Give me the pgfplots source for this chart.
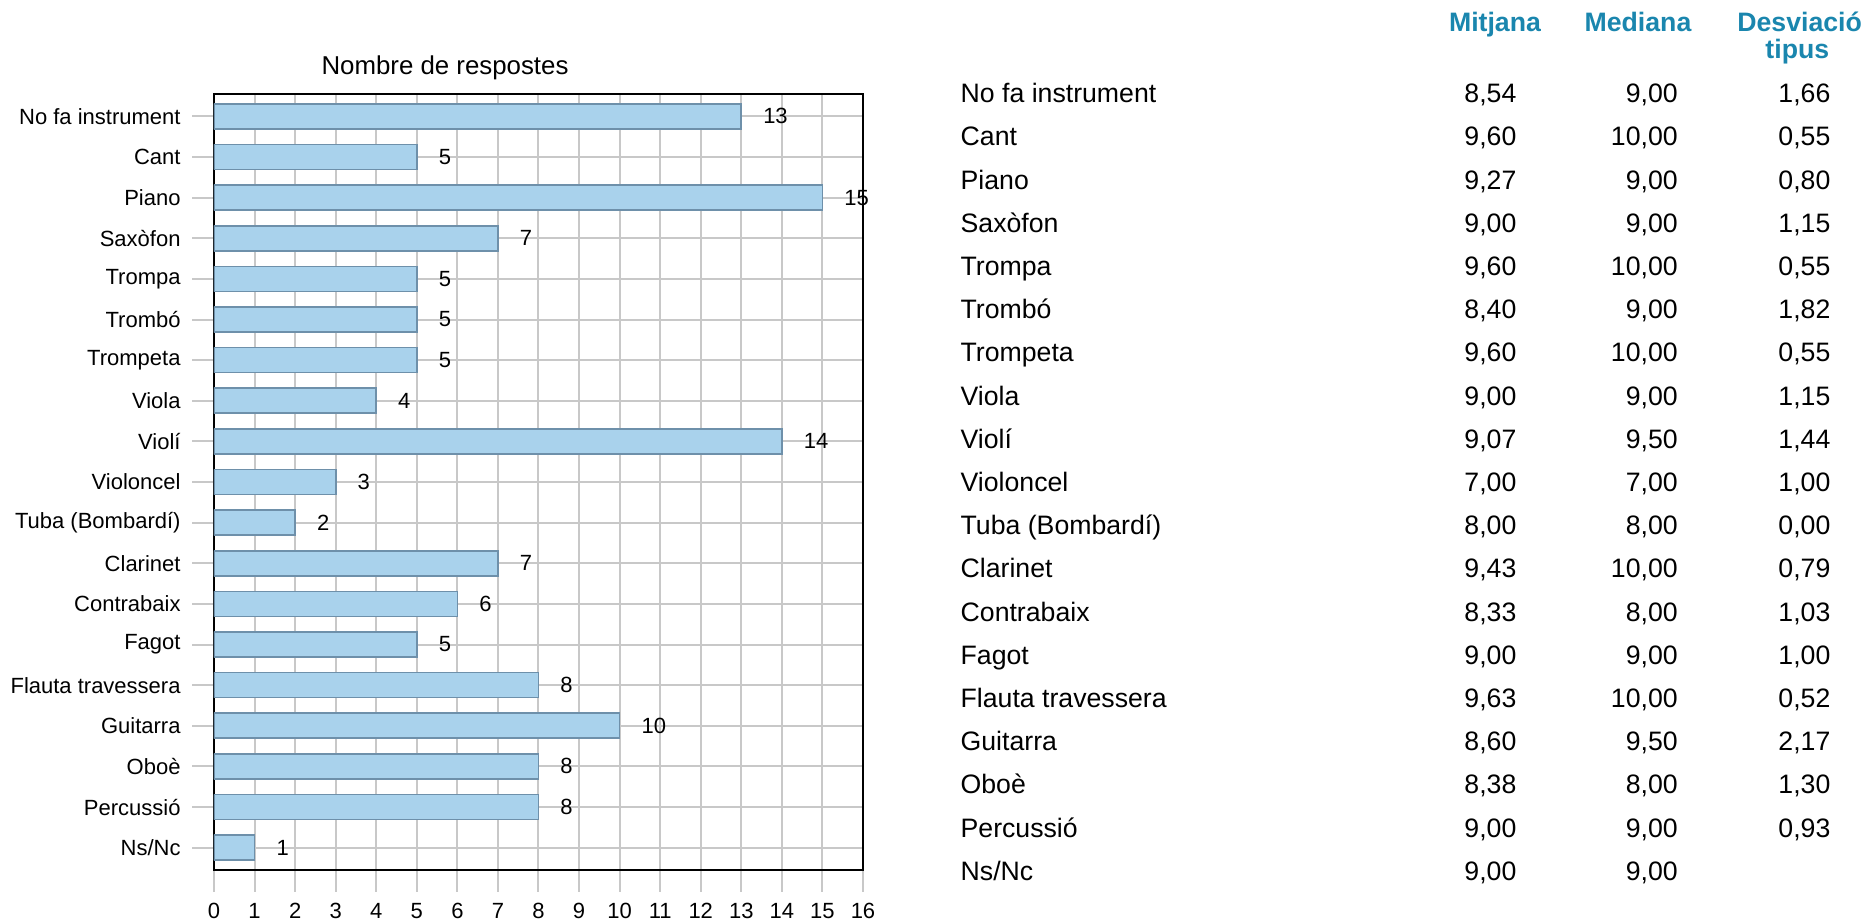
\documentclass[border=0pt]{standalone}
\usepackage{fontspec}
\setmainfont{Liberation Sans}
\usepackage{pgfplots}
\pgfplotsset{compat=1.18}
\definecolor{barfill}{HTML}{A9D2EC}
\definecolor{baredge}{HTML}{6E90AA}
\definecolor{gridgray}{HTML}{C8C8C8}
\definecolor{headblue}{HTML}{1A86AE}
\newcommand\ticksize{\fontsize{6.6}{8}\selectfont}
\newcommand\tabfont{\fontsize{8}{9.6}\selectfont}
\begin{document}
\begin{tikzpicture}
\path[use as bounding box] (0,0) rectangle (560.4pt,-275.7pt);
\begin{axis}[
  at={(64.2pt,-28.2pt)}, anchor=north west,
  scale only axis, width=194.7pt, height=232.8pt,
  xbar, bar width=7.5pt,
  xmin=0, xmax=16, ymin=-0.55, ymax=18.55, y dir=reverse,
  xtick={0,...,16}, ytick={0,...,18},
  yticklabels={No fa instrument,Cant,Piano,Saxòfon,Trompa,Trombó,Trompeta,Viola,Violí,Violoncel,Tuba (Bombardí),Clarinet,Contrabaix,Fagot,Flauta travessera,Guitarra,Oboè,Percussió,Ns/Nc},
  grid=major, major grid style={gridgray, line width=0.6pt},
  axis line style={black, line width=0.8pt},
  tick align=outside, tick pos=left,
  major tick length=6.5pt,
  major tick style={gridgray, line width=0.6pt},
  ticklabel style={font=\ticksize},
  /pgf/number format/assume math mode=true,
  nodes near coords,
  nodes near coords style={anchor=west, xshift=3pt, font=\ticksize, black},
]
\addplot[fill=barfill, draw=baredge, line width=0.5pt] coordinates {
  (13,0) (5,1) (15,2) (7,3) (5,4) (5,5) (5,6) (4,7) (14,8) (3,9)
  (2,10) (7,11) (6,12) (5,13) (8,14) (10,15) (8,16) (8,17) (1,18)
};
\end{axis}
\node[anchor=base, font=\fontsize{7.75}{9}\selectfont] at (133.5pt,-22.3pt) {Nombre de respostes};
% table
\begin{scope}[font=\bfseries\tabfont, text=headblue]
\node[anchor=base] at (448.5pt,-9.5pt) {Mitjana};
\node[anchor=base] at (491.4pt,-9.5pt) {Mediana};
\node[anchor=base] at (539.9pt,-9.5pt) {Desviació};
\node[anchor=base] at (539.2pt,-17.6pt) {tipus};
\end{scope}
\foreach \n/\a/\b/\c [count=\i from 0] in {
  {No fa instrument}/{8,54}/{9,00}/{1,66},
  {Cant}/{9,60}/{10,00}/{0,55},
  {Piano}/{9,27}/{9,00}/{0,80},
  {Saxòfon}/{9,00}/{9,00}/{1,15},
  {Trompa}/{9,60}/{10,00}/{0,55},
  {Trombó}/{8,40}/{9,00}/{1,82},
  {Trompeta}/{9,60}/{10,00}/{0,55},
  {Viola}/{9,00}/{9,00}/{1,15},
  {Violí}/{9,07}/{9,50}/{1,44},
  {Violoncel}/{7,00}/{7,00}/{1,00},
  {Tuba (Bombardí)}/{8,00}/{8,00}/{0,00},
  {Clarinet}/{9,43}/{10,00}/{0,79},
  {Contrabaix}/{8,33}/{8,00}/{1,03},
  {Fagot}/{9,00}/{9,00}/{1,00},
  {Flauta travessera}/{9,63}/{10,00}/{0,52},
  {Guitarra}/{8,60}/{9,50}/{2,17},
  {Oboè}/{8,38}/{8,00}/{1,30},
  {Percussió}/{9,00}/{9,00}/{0,93},
  {Ns/Nc}/{9,00}/{9,00}/{}
}{
  \node[anchor=base west, font=\tabfont, inner sep=0pt] at (288pt,{-30.8pt-12.96pt*\i}) {\n};
  \node[anchor=base east, font=\tabfont, inner sep=0pt] at (455.1pt,{-30.8pt-12.96pt*\i}) {\a};
  \node[anchor=base east, font=\tabfont, inner sep=0pt] at (503.5pt,{-30.8pt-12.96pt*\i}) {\b};
  \node[anchor=base east, font=\tabfont, inner sep=0pt] at (549.3pt,{-30.8pt-12.96pt*\i}) {\c};
}
\end{tikzpicture}
\end{document}
